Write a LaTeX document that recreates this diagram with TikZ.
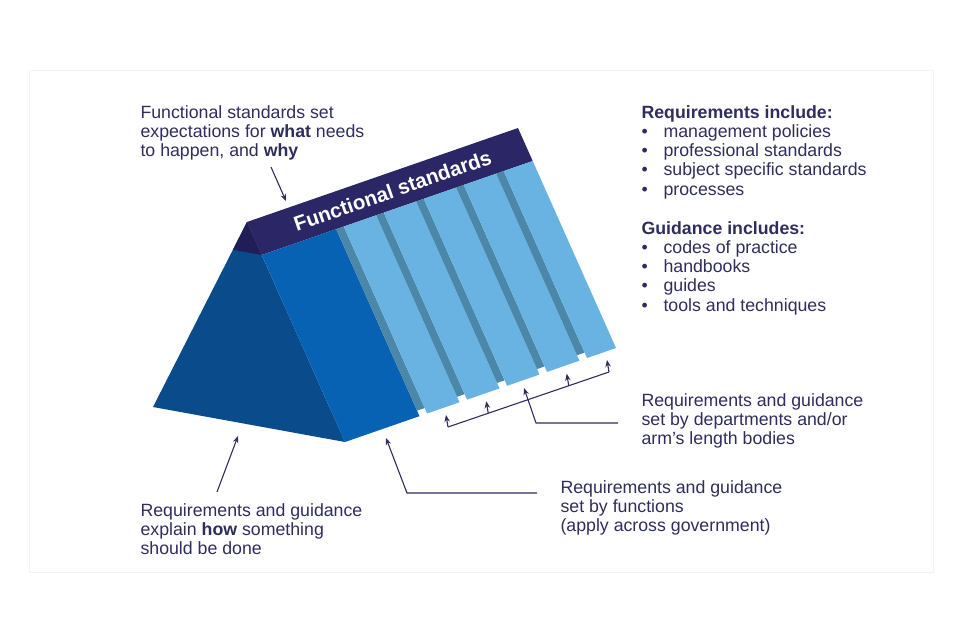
\documentclass[tikz,border=0pt]{standalone}
\usepackage{fontspec}
\setmainfont{Liberation Sans}
\usepackage{tikz}
\usetikzlibrary{calc, positioning}
\usetikzlibrary{arrows.meta}
\tikzset{>={Stealth[length=7pt,width=5.5pt]}}
\definecolor{fsnavy}{HTML}{2B2767}
\definecolor{capnavy}{HTML}{211D57}
\definecolor{endblue}{HTML}{0A4B8B}
\definecolor{funcblue}{HTML}{0862B3}
\definecolor{deptblue}{HTML}{69B3E3}
\definecolor{stepblue}{HTML}{4A87A8}
\definecolor{txtnavy}{HTML}{2E2D5E}
\definecolor{framegray}{HTML}{F3F3F3}
\newcommand{\bul}{\makebox[22bp][l]{\textbullet}}

\begin{document}
\begin{tikzpicture}[x=1bp, y=-1bp, line width=1.1pt,
    callout/.style={anchor=base west, inner sep=0pt, align=left, text=txtnavy,
      font=\fontsize{17.8}{19.37}\selectfont},
    pointer/.style={draw=txtnavy, ->}]
  \useasboundingbox (0,0) rectangle (960,640);
  \draw[framegray, line width=0.6pt] (29,70) rectangle (933,572);

  % end face of the prism
  \coordinate (A) at (247,222);
  \coordinate (L) at (153,407);
  \coordinate (B) at (345,442);
  \fill[endblue] (A) -- (L) -- (B) -- cycle;
  \fill[capnavy] (A) -- ($(A)!0.15!(L)$) -- ($(A)!0.15!(B)$) -- cycle;

  % sloping face, u along the ridge, v down the slope
  \begin{scope}[shift={(247,222)}, x={(271bp,94bp)}, y={(98bp,-220bp)}]
    \fill[fsnavy] (0,0) -- (1,0) -- (1,0.15) -- (0,0.15) -- cycle;
    \fill[funcblue] (0,0.15) -- (0.275,0.15) -- (0.275,1) -- (0,1) -- cycle;
    \foreach \u/\e in {0.275/0.4225, 0.4225/0.57, 0.57/0.7175, 0.7175/0.865, 0.865/1}{
      \fill[stepblue] (\u,0.15) -- (\u+0.028,0.15) -- (\u+0.028,0.975) -- (\u,0.975) -- cycle;
      \fill[deptblue] (\u+0.028,0.15) -- (\e,0.15) -- (\e,1) -- (\u+0.028,1) -- cycle;
    }
    \node[rotate=19.1, text=white, font=\bfseries\fontsize{20.6}{21}\selectfont]
      (fslabel) at (0.51,0.075) {Functional standards};
  \end{scope}

  % texts (base = last line)
  \node[callout] (whytext) at (140,156.6) {Functional standards set\\expectations for \textbf{what} needs\\to happen, and \textbf{why}};
  \node[callout] (reqlist) at (641,195.2) {\textbf{Requirements include:}\\\bul management policies\\\bul professional standards\\\bul subject specific standards\\\bul processes};
  \node[callout] (guidlist) at (641,311.2) {\textbf{Guidance includes:}\\\bul codes of practice\\\bul handbooks\\\bul guides\\\bul tools and techniques};
  \node[callout] (depttext) at (641,444.6) {Requirements and guidance\\set by departments and/or\\arm's length bodies};
  \node[callout] (functext) at (560,531.6) {Requirements and guidance\\set by functions\\(apply across government)};
  \node[callout] (howtext) at (140,554.6) {Requirements and guidance\\explain \textbf{how} something\\should be done};

  % pointers
  \coordinate (whytail) at (271,167);
  \coordinate (whytip) at (286,201);
  \draw[pointer] (whytail) -- (whytip);
  \coordinate (howtail) at (217,492);
  \coordinate (howtip) at (238,436);
  \draw[pointer] (howtail) -- (howtip);
  \coordinate (funcend) at (537,493);
  \coordinate (funcbend) at (407,493);
  \coordinate (functip) at (386,438);
  \draw[pointer] (funcend) -- (funcbend) -- (functip);
  \coordinate (deptend) at (618,423);
  \coordinate (deptbend) at (536,423);
  \coordinate (depttip) at (524,388);
  \draw[pointer] (deptend) -- (deptbend) -- (depttip);
  \coordinate (brkL) at (448,427);
  \coordinate (brkR) at (609,372);
  \draw[txtnavy] (brkL) -- (brkR);
  \foreach \t in {0,0.25,0.75,1}
    \draw[pointer] ($(brkL)!\t!(brkR)$) -- ++(-2,-12);
\end{tikzpicture}
\end{document}
